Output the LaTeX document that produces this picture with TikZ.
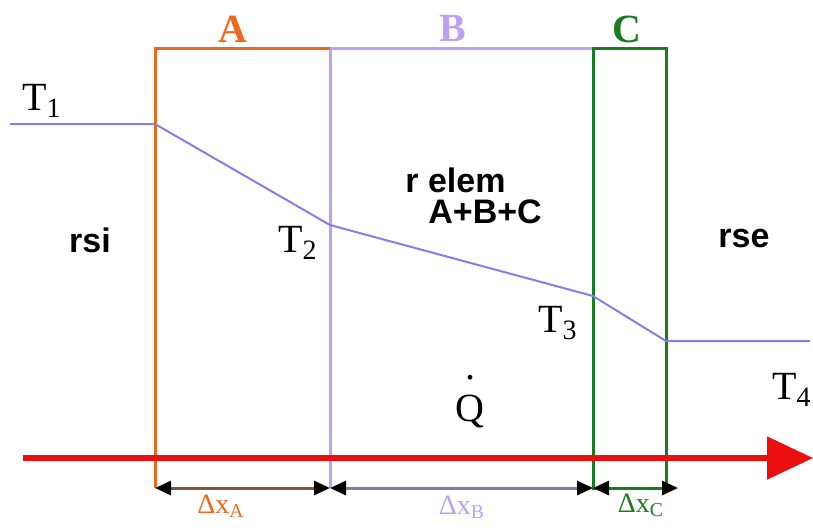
\documentclass[tikz,border=0pt]{standalone}
\usepackage{fontspec}
\setmainfont{Liberation Serif}
\setsansfont{Liberation Sans}
\usepackage{xcolor}
\usepackage{tikz}
\usetikzlibrary{arrows.meta,positioning}
\definecolor{layerorange}{RGB}{235,105,30}
\definecolor{layerlilac}{RGB}{190,160,240}
\definecolor{layergreen}{RGB}{25,125,30}
\definecolor{templine}{RGB}{135,125,235}
\definecolor{flowred}{RGB}{235,15,15}
\definecolor{dimbrown}{RGB}{130,85,60}
\definecolor{dimgrey}{RGB}{135,120,165}

\begin{document}
\begin{tikzpicture}[
  x=0.5pt, y=-0.5pt,
  tlab/.style={font=\fontsize{20}{22}\selectfont, inner sep=0pt},
  layerlab/.style={font=\fontsize{20}{22}\selectfont\bfseries, inner sep=0pt},
  rlab/.style={font=\fontsize{17}{19}\selectfont\sffamily\bfseries, inner sep=0pt},
  dlab/.style={font=\fontsize{14}{16}\selectfont, inner sep=0pt},
  dim/.style={{Triangle[length=8pt,width=7pt,black]}-{Triangle[length=8pt,width=7pt,black]}, line width=1.5pt}
]
  \useasboundingbox (0,0) rectangle (813,527);

  % layer corners
  \coordinate (aTop) at (155,48);
  \coordinate (bTop) at (330,48);
  \coordinate (cTop) at (593,48);
  \coordinate (cTopR) at (666,48);
  \coordinate (aBot) at (155,488);
  \coordinate (bBot) at (330,488);
  \coordinate (cBot) at (593,488);
  \coordinate (cBotR) at (666,488);
  \coordinate (cDimEnd) at (678,488);

  % layers
  \draw[layerlilac, line width=1.5pt] (bTop) -- (cTop) (bTop) -- (bBot);
  \draw[layerorange, line width=1.5pt] (aBot) -- (aTop) -- (bTop);
  \draw[layergreen, line width=1.5pt] (cTop) rectangle (cBotR);

  % temperature profile
  \coordinate (t1) at (10,124);
  \coordinate (t1w) at (155,124);
  \coordinate (t2w) at (330,225);
  \coordinate (t3w) at (593,296);
  \coordinate (t4w) at (666,341);
  \coordinate (t4) at (810,341);
  \draw[templine, line width=1pt] (t1) -- (t1w) -- (t2w) -- (t3w) -- (t4w) -- (t4);

  % heat flow
  \coordinate (qStart) at (23,458);
  \coordinate (qEnd) at (813,458);
  \draw[flowred, line width=2.6pt, -{Triangle[length=23pt,width=21pt]}] (qStart) -- (qEnd);

  % thicknesses
  \draw[dim, dimbrown] (aBot) -- (bBot);
  \draw[dim, dimgrey] (bBot) -- (cBot);
  \draw[dim, layergreen] (cBot) -- (cDimEnd);

  % labels
  \node[layerlab, text=layerorange] (labA) at (233,29) {A};
  \node[layerlab, text=layerlilac] (labB) at (453,28) {B};
  \node[layerlab, text=layergreen] (labC) at (627,29) {C};
  \node[tlab] (labT1) at (42,101) {T\textsubscript{1}};
  \node[tlab] (labT2) at (298,243) {T\textsubscript{2}};
  \node[tlab] (labT3) at (558,323) {T\textsubscript{3}};
  \node[tlab] (labT4) at (792,390) {T\textsubscript{4}};
  \node[rlab] (rsi) at (90,240) {rsi};
  \node[rlab] (rse) at (744,238) {rse};
  \node[rlab, anchor=west] (relem) at (405,180) {r elem};
  \node[rlab, anchor=west] (relemabc) at (428,212) {A+B+C};
  \node[tlab, anchor=base] (qdot) at (470,421) {\ooalign{\hidewidth\raisebox{1.05em}{.}\hidewidth\cr Q\cr}};
  \node[dlab, text=layerorange] (dxA) at (221,506) {Δx\textsubscript{A}};
  \node[dlab, text=layerlilac] (dxB) at (462,507) {Δx\textsubscript{B}};
  \node[dlab, text=layergreen] (dxC) at (641,505) {Δx\textsubscript{C}};
\end{tikzpicture}
\end{document}
